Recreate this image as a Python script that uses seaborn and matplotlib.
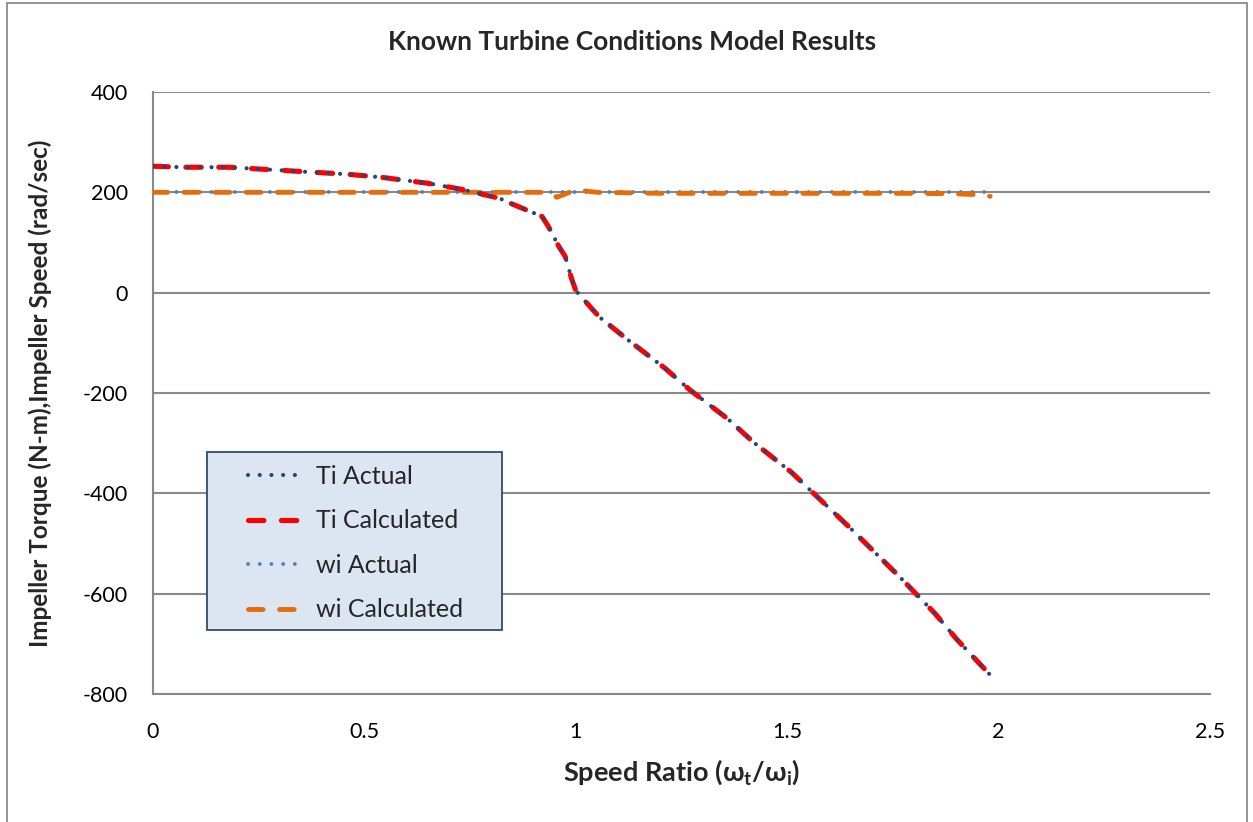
import matplotlib
matplotlib.use("Agg")
import matplotlib.pyplot as plt
from matplotlib.patches import Rectangle
import seaborn as sns
import pandas as pd

# Speed ratio samples and impeller torque (actual / model)
ti_ratio = [0.0, 0.07, 0.18, 0.26, 0.38, 0.46, 0.54, 0.65, 0.73, 0.82, 0.84,
            0.92, 0.935, 0.96, 0.975, 0.99, 1.0, 1.055, 1.12, 1.21, 1.27,
            1.36, 1.42, 1.51, 1.57, 1.65, 1.71, 1.77, 1.85, 1.90, 1.96, 1.98]
ti_actual = [252, 250, 250, 246, 240, 236, 230, 218, 206, 188, 180,
             152, 132, 92, 72, 28, 4, -48, -92, -150, -194,
             -252, -298, -358, -406, -470, -520, -570, -640, -690, -744, -762]
ti_calculated = [252, 250, 250, 246, 240, 236, 230, 218, 206, 188, 180,
                 152, 132, 92, 72, 28, 4, -48, -92, -150, -194,
                 -252, -298, -358, -406, -470, -520, -570, -640, -690, -744, -762]

# Impeller speed (actual / model)
wi_ratio = [0.0, 0.5, 0.94, 0.955, 1.0, 1.05, 1.2, 1.5, 1.8, 1.9, 1.96, 1.98]
wi_actual = [200, 200, 200, 200, 200, 200, 200, 200, 200, 200, 200, 200]
wi_calculated = [200, 200, 200, 190, 205, 200, 198, 198, 198, 197, 195, 192]

x_ticks = [0, 0.5, 1, 1.5, 2, 2.5]
x_tick_labels = ["0", "0.5", "1", "1.5", "2", "2.5"]
y_ticks = [-800, -600, -400, -200, 0, 200, 400]

sns.set_style("white")
plt.rcParams["font.family"] = ["Lato", "DejaVu Sans"]
plt.rcParams["axes.unicode_minus"] = False

fig = plt.figure(figsize=(12.53, 8.22), dpi=100)
ax = fig.add_axes([0.1221, 0.1557, 0.8436, 0.7324])

# outer chart border
fig.add_artist(Rectangle((0.0056, -0.05), 0.9897, 1.046, transform=fig.transFigure,
                         fill=False, edgecolor="#8c8c8c", linewidth=1.3))

dot_kw = dict(dash_capstyle="round", solid_capstyle="round")
df_ti = pd.DataFrame({"r": ti_ratio, "a": ti_actual, "c": ti_calculated})
df_wi = pd.DataFrame({"r": wi_ratio, "a": wi_actual, "c": wi_calculated})

sns.lineplot(data=df_wi, x="r", y="a", ax=ax, color="#4f81bd", linewidth=2.8,
             linestyle=(0, (0.01, 3.0)), label="wi Actual", zorder=3, **dot_kw)
sns.lineplot(data=df_wi, x="r", y="c", ax=ax, color="#e46c0a", linewidth=3.5,
             linestyle=(0, (3.0, 3.4)), label="wi Calculated", zorder=4, **dot_kw)
sns.lineplot(data=df_ti, x="r", y="c", ax=ax, color="#ff0000", linewidth=3.7,
             linestyle=(0, (3.0, 3.4)), label="Ti Calculated", zorder=5, **dot_kw)
sns.lineplot(data=df_ti, x="r", y="a", ax=ax, color="#1f497d", linewidth=3.0,
             linestyle=(0, (0.01, 2.8)), label="Ti Actual", zorder=6, **dot_kw)

ax.set_xlim(0, 2.5)
ax.set_ylim(-800, 400)
ax.set_xticks(x_ticks)
ax.set_xticklabels(x_tick_labels)
ax.set_yticks(y_ticks)
ax.yaxis.grid(True, color="#898989", linewidth=1.5)
ax.set_axisbelow(True)
for side in ("top", "right"):
    ax.spines[side].set_visible(False)
for side in ("left", "bottom"):
    ax.spines[side].set_color("#898989")
    ax.spines[side].set_linewidth(1.5)
ax.tick_params(axis="both", which="major", direction="out", length=6, width=1.3,
               color="#898989", labelsize=15.5, labelcolor="black")
ax.tick_params(axis="y", pad=12)
ax.tick_params(axis="x", pad=14)

ax.set_xlabel("Speed Ratio (ω$_\\mathregular{t}$/ω$_\\mathregular{i}$)", fontsize=19.5,
              fontweight="bold", labelpad=11)
ax.set_ylabel("Impeller Torque (N-m),Impeller Speed (rad/sec)", fontsize=17.5,
              fontweight="bold", labelpad=22)
fig.text(0.5045, 0.949, "Known Turbine Conditions Model Results", ha="center",
         va="center", fontsize=19, fontweight="bold")

# legend panel
ax.add_patch(Rectangle((0.0511, 0.106), 0.279, 0.296, transform=ax.transAxes,
                       facecolor="#dce6f2", edgecolor="#2c4d75", linewidth=1.3,
                       zorder=7))
order = ["Ti Actual", "Ti Calculated", "wi Actual", "wi Calculated"]
handles, labels = ax.get_legend_handles_labels()
hmap = dict(zip(labels, handles))
leg = ax.legend([hmap[k] for k in order], order, loc="upper left",
                bbox_to_anchor=(0.071, 0.414), frameon=False, fontsize=18,
                handlelength=2.3, handletextpad=0.4, labelspacing=0.86,
                borderpad=0.3)
leg.set_zorder(8)

fig.savefig("out.png", dpi=100)
